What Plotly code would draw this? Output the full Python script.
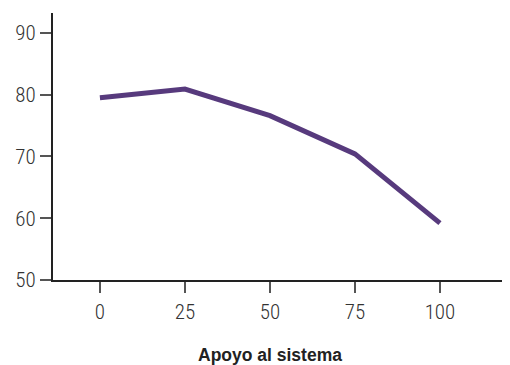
import plotly.graph_objects as go

x_vals = [0, 25, 50, 75, 100]
y_vals = [79.5, 80.9, 76.6, 70.4, 59.2]
x_ticks = [0, 25, 50, 75, 100]
y_ticks = [50, 60, 70, 80, 90]
x_title = "Apoyo al sistema"

FONT = "Roboto Condensed, Liberation Sans Narrow, Arial Narrow, sans-serif"

fig = go.Figure()
fig.add_trace(go.Scatter(
    x=x_vals, y=y_vals, mode="lines",
    line=dict(color="#573a7d", width=5),
    showlegend=False,
))

# page body has an 8px default margin, so the figure is sized to fit the 510x365 window
fig.update_layout(
    width=502, height=357,
    margin=dict(l=45, r=0, t=5, b=85),
    plot_bgcolor="white", paper_bgcolor="white",
    font=dict(family=FONT, size=21, color="#333333", weight=300),
)
fig.update_xaxes(
    range=[-13.8, 120.6],
    tickvals=x_ticks, ticktext=[str(v) for v in x_ticks],
    showgrid=False, zeroline=False,
    showline=True, linecolor="#222222", linewidth=2,
    ticks="outside", ticklen=11, tickwidth=1.5, tickcolor="#555555",
    ticklabelstandoff=1,
)
fig.update_yaxes(
    range=[50, 93.2],
    tickvals=y_ticks, ticktext=[str(v) for v in y_ticks],
    showgrid=False, zeroline=False,
    showline=True, linecolor="#222222", linewidth=2,
    ticks="outside", ticklen=11, tickwidth=1.5, tickcolor="#555555",
    ticklabelstandoff=0,
)
fig.add_annotation(
    x=50, xref="x", y=-0.281, yref="paper",
    text="<b>" + x_title + "</b>", showarrow=False,
    font=dict(family="Liberation Sans, Arial, sans-serif", size=17.5, color="#222222"),
    yanchor="middle", xanchor="center",
)
fig.write_html("out.html")
